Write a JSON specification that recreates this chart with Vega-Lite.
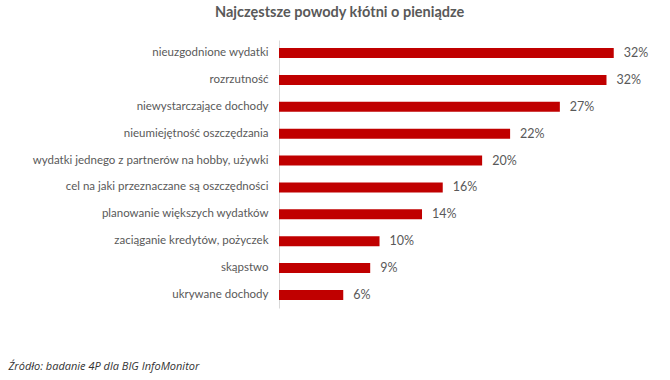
{
  "$schema": "https://vega.github.io/schema/vega-lite/v6.json",
  "autosize": "none",
  "width": 342,
  "height": 268,
  "padding": {"left": 279, "top": 40, "right": 49, "bottom": 72},
  "background": "white",
  "title": {
    "text": "Najczęstsze powody kłótni o pieniądze",
    "anchor": "start",
    "frame": "group",
    "dx": -64,
    "offset": 20,
    "font": "Lato",
    "fontSize": 14.5,
    "fontWeight": "bold",
    "color": "#595959"
  },
  "data": {
    "values": [
      {"reason": "nieuzgodnione wydatki", "share": 0.323},
      {"reason": "rozrzutność", "share": 0.316},
      {"reason": "niewystarczające dochody", "share": 0.271},
      {"reason": "nieumiejętność oszczędzania", "share": 0.223},
      {"reason": "wydatki jednego z partnerów na hobby, używki", "share": 0.196},
      {"reason": "cel na jaki przeznaczane są oszczędności", "share": 0.158},
      {"reason": "planowanie większych wydatków", "share": 0.138},
      {"reason": "zaciąganie kredytów, pożyczek", "share": 0.097},
      {"reason": "skąpstwo", "share": 0.088},
      {"reason": "ukrywane dochody", "share": 0.062}
    ]
  },
  "encoding": {
    "y": {
      "field": "reason",
      "type": "nominal",
      "sort": null,
      "scale": {"paddingInner": 0.63, "paddingOuter": 0.3},
      "axis": {
        "title": null,
        "ticks": false,
        "domainColor": "#d9d9d9",
        "labelFont": "Lato",
        "labelFontSize": 11.5,
        "labelColor": "#595959",
        "labelPadding": 11,
        "labelLimit": 300
      }
    },
    "x": {
      "field": "share",
      "type": "quantitative",
      "scale": {"domain": [0, 0.33], "nice": false},
      "axis": {
        "labels": false,
        "ticks": false,
        "domain": false,
        "grid": false,
        "title": "Źródło: badanie 4P dla BIG InfoMonitor",
        "titleAnchor": "start",
        "titleAlign": "left",
        "titleX": -271,
        "titleY": 52,
        "titleFont": "Open Sans",
        "titleFontSize": 11,
        "titleFontStyle": "italic",
        "titleFontWeight": "normal",
        "titleColor": "#333333"
      }
    }
  },
  "layer": [
    {"mark": {"type": "bar", "color": "#C00000"}},
    {
      "mark": {"type": "text", "align": "left", "baseline": "middle", "dx": 10, "font": "Lato", "fontSize": 12.5, "color": "#595959"},
      "encoding": {"text": {"field": "share", "type": "quantitative", "format": ".0%"}}
    }
  ],
  "config": {"view": {"stroke": null}}
}
